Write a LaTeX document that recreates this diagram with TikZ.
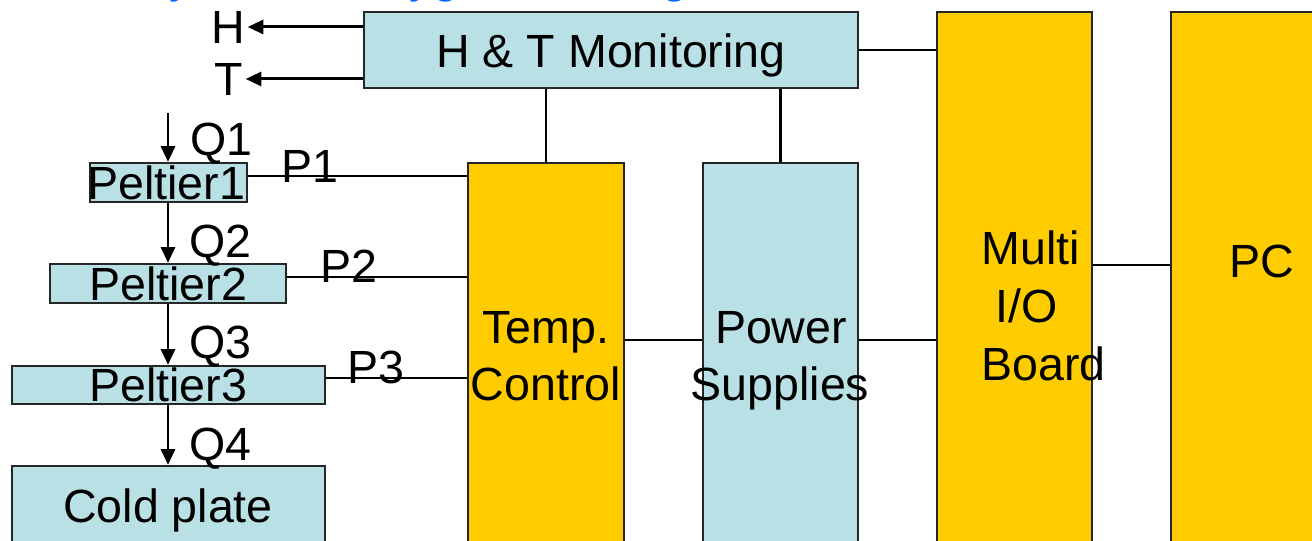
\documentclass[tikz,border=0pt]{standalone}
\usepackage{fontspec}
\setmainfont{Liberation Sans}
\usetikzlibrary{arrows.meta,fit}
\definecolor{lb}{RGB}{185,224,228}
\definecolor{yl}{RGB}{255,204,0}
\definecolor{bl}{RGB}{0,102,255}
\begin{document}
\begin{tikzpicture}[x=0.02cm,y=-0.02cm,
  font=\fontsize{26.5}{30}\selectfont,
  box/.style={draw=black!85, line width=1.3pt, inner sep=0pt},
  lbox/.style={box, fill=lb},
  ybox/.style={box, fill=yl},
  txt/.style={inner sep=0pt, anchor=base},
  bluetxt/.style={txt, text=bl, font=\fontsize{26.5}{30}\selectfont\itshape},
  wire/.style={line width=1.7pt},
  arr/.style={wire, -{Triangle[length=9pt,width=8pt]}}]
\useasboundingbox (0,0) rectangle (1312,541);
\clip (0,0) rectangle (1312,541);
% boxes
\node[lbox, fit={(364,12) (858,88)}] (ht) {};
\node[lbox, fit={(90,163) (247,202)}] (p1) {};
\node[lbox, fit={(50,264) (286,303)}] (p2) {};
\node[lbox, fit={(12,366) (325,404)}] (p3) {};
\node[lbox, fit={(12,466) (325,580)}] (cp) {};
\node[ybox, fit={(468,163) (624,580)}] (tc) {};
\node[lbox, fit={(703,163) (858,580)}] (ps) {};
\node[ybox, fit={(937,12) (1092,580)}] (mio) {};
\node[ybox, fit={(1171,12) (1350,580)}] (pc) {};
% blue fragments of a caption cut off by the top edge
\node[bluetxt] (b1) at (185,-8) {y};
\node[bluetxt] (b2) at (438,-8) {yg};
\node[bluetxt] (b3) at (678,-8) {g};
% labels
\node[txt, anchor=base east] (H) at (245,43) {H};
\node[txt, anchor=base east] (T) at (243,95) {T};
\coordinate (q1s) at (168,113);
% connectors
\draw[arr, shorten >=1.5pt] (ht.west |- H.east) -- (H.east);
\draw[arr, shorten >=1.5pt] (ht.west |- T.east) -- (T.east);
\draw[arr] (q1s) -- (q1s |- p1.north);
\draw[arr] (q1s |- p1.south) -- (q1s |- p2.north);
\draw[arr] (q1s |- p2.south) -- (q1s |- p3.north);
\draw[arr] (q1s |- p3.south) -- (q1s |- cp.north);
\draw[wire] (p1.east |- 0,176) -- (tc.west |- 0,176);
\draw[wire] (p2.east |- 0,277) -- (tc.west |- 0,277);
\draw[wire] (p3.east |- 0,378) -- (tc.west |- 0,378);
\draw[wire] (tc.north |- ht.south) -- (tc.north);
\draw[wire] (ps.north |- ht.south) -- (ps.north);
\draw[wire] (tc.east |- 0,340) -- (ps.west |- 0,340);
\draw[wire] (ps.east |- 0,340) -- (mio.west |- 0,340);
\draw[wire] (ht.east) -- (mio.west |- ht.east);
\draw[wire] (mio.east |- 0,265) -- (pc.west |- 0,265);
% texts
\node[txt] (htt) at (611,67) {H \& T Monitoring};
\node[txt] (p1t) at (166,199) {Peltier1};
\node[txt] (p2t) at (168,300) {Peltier2};
\node[txt] (p3t) at (168,401) {Peltier3};
\node[txt] (cpt) at (168,522) {Cold plate};
\node[txt, anchor=base west] (q1) at (190,155) {Q1};
\node[txt, anchor=base west] (q2) at (189,257) {Q2};
\node[txt, anchor=base west] (q3) at (189,358) {Q3};
\node[txt, anchor=base west] (q4) at (189,460) {Q4};
\node[txt, anchor=base west] (pl1) at (281,182) {P1};
\node[txt, anchor=base west] (pl2) at (320,282) {P2};
\node[txt, anchor=base west] (pl3) at (347,383) {P3};
\node[txt] (tct1) at (546,343) {Temp.};
\node[txt] (tct2) at (546,400) {Control};
\node[txt] (pst1) at (781,343) {Power};
\node[txt] (pst2) at (780,400) {Supplies};
\node[txt, anchor=base west] (m1) at (981,264) {Multi};
\node[txt, anchor=base west] (m2) at (995,322) {I/O};
\node[txt, anchor=base west] (m3) at (981,380) {Board};
\node[txt, anchor=base west] (pct) at (1229,277) {PC};
\end{tikzpicture}
\end{document}
